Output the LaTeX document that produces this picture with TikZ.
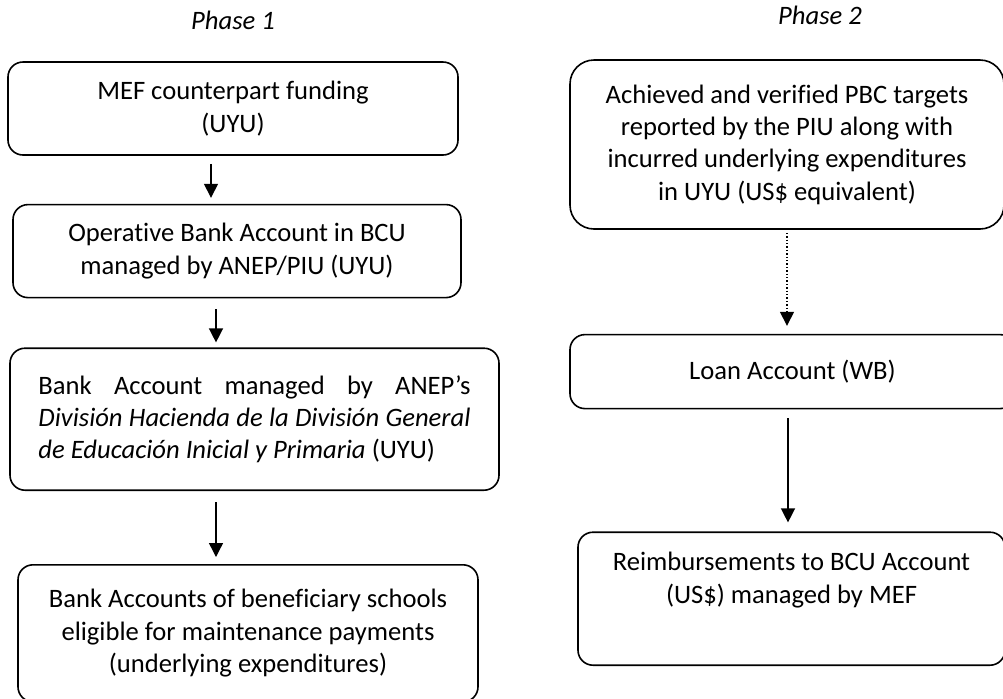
\documentclass[tikz,border=0pt]{standalone}
\usepackage{fontspec}
\setmainfont{Carlito}[Ligatures=NoCommon]
\usetikzlibrary{arrows.meta, positioning}
\hyphenpenalty=10000

\begin{document}
\begin{tikzpicture}[x=0.5pt, y=-0.5pt,
  box/.style={draw, line width=0.8pt, rounded corners=7.5pt, align=center, inner sep=2pt, font=\fontsize{13.3}{16.2}\selectfont},
  phase/.style={font=\fontsize{13.3}{16}\selectfont\itshape},
  arr/.style={-{Triangle[length=7pt, width=7pt]}, line width=0.7pt}]
\useasboundingbox (0,0) rectangle (1003,698);
% Phase 1
\node[phase] (ph1) at (233,20) {Phase 1};
\node[box, minimum width=225pt, minimum height=46.5pt] (mef) at (233,108.5) {MEF counterpart funding\\(UYU)};
\node[box, minimum width=224pt, minimum height=46.5pt, below=24pt of mef, xshift=2pt] (opr) {Operative Bank Account in BCU\\managed by ANEP/PIU (UYU)};
\node[box, minimum width=244.5pt, minimum height=71pt, text width=216pt, align=justify, below=24.5pt of opr, xshift=8.75pt] (anep) {Bank Account managed by ANEP's\linebreak \textit{División Hacienda de la División General}\linebreak \textit{de Educación Inicial y Primaria} (UYU)};
\node[box, minimum width=230pt, minimum height=68.5pt, below=36.5pt of anep, xshift=-3.25pt] (sch) {Bank Accounts of beneficiary schools\\eligible for maintenance payments\\(underlying expenditures)};
% Phase 2
\node[phase] (ph2) at (820,15) {Phase 2};
\node[box, rounded corners=12pt, minimum width=217pt, minimum height=84.5pt] (pbc) at (787,144.5) {Achieved and verified PBC targets\\reported by the PIU along with\\incurred underlying expenditures\\in UYU (US\$ equivalent)};
\node[box, minimum width=222.5pt, minimum height=37pt, below=52pt of pbc, xshift=2.75pt] (loan) {Loan Account (WB)};
\node[box, minimum width=213.5pt, minimum height=66.5pt, below=61pt of loan, xshift=-0.5pt] (rmb) {Reimbursements to BCU Account\\(US\$) managed by MEF\\\strut};
% flows
\draw[arr, shorten <=4pt, shorten >=3pt] ([xshift=-11pt]mef.south) -- ([xshift=-13pt]opr.north);
\draw[arr, shorten <=5.5pt, shorten >=2.5pt] ([xshift=-10.5pt]opr.south) -- ([xshift=-19.25pt]anep.north);
\draw[arr, shorten <=5.5pt, shorten >=3.5pt] ([xshift=-19.25pt]anep.south) -- ([xshift=-16pt]sch.north);
\draw[arr, densely dotted, shorten <=1.5pt, shorten >=4pt] (pbc.south) -- ([xshift=-2.75pt]loan.north);
\draw[arr, shorten <=4.5pt, shorten >=4.5pt] ([xshift=-2.25pt]loan.south) -- ([xshift=-1.75pt]rmb.north);
\end{tikzpicture}
\end{document}
